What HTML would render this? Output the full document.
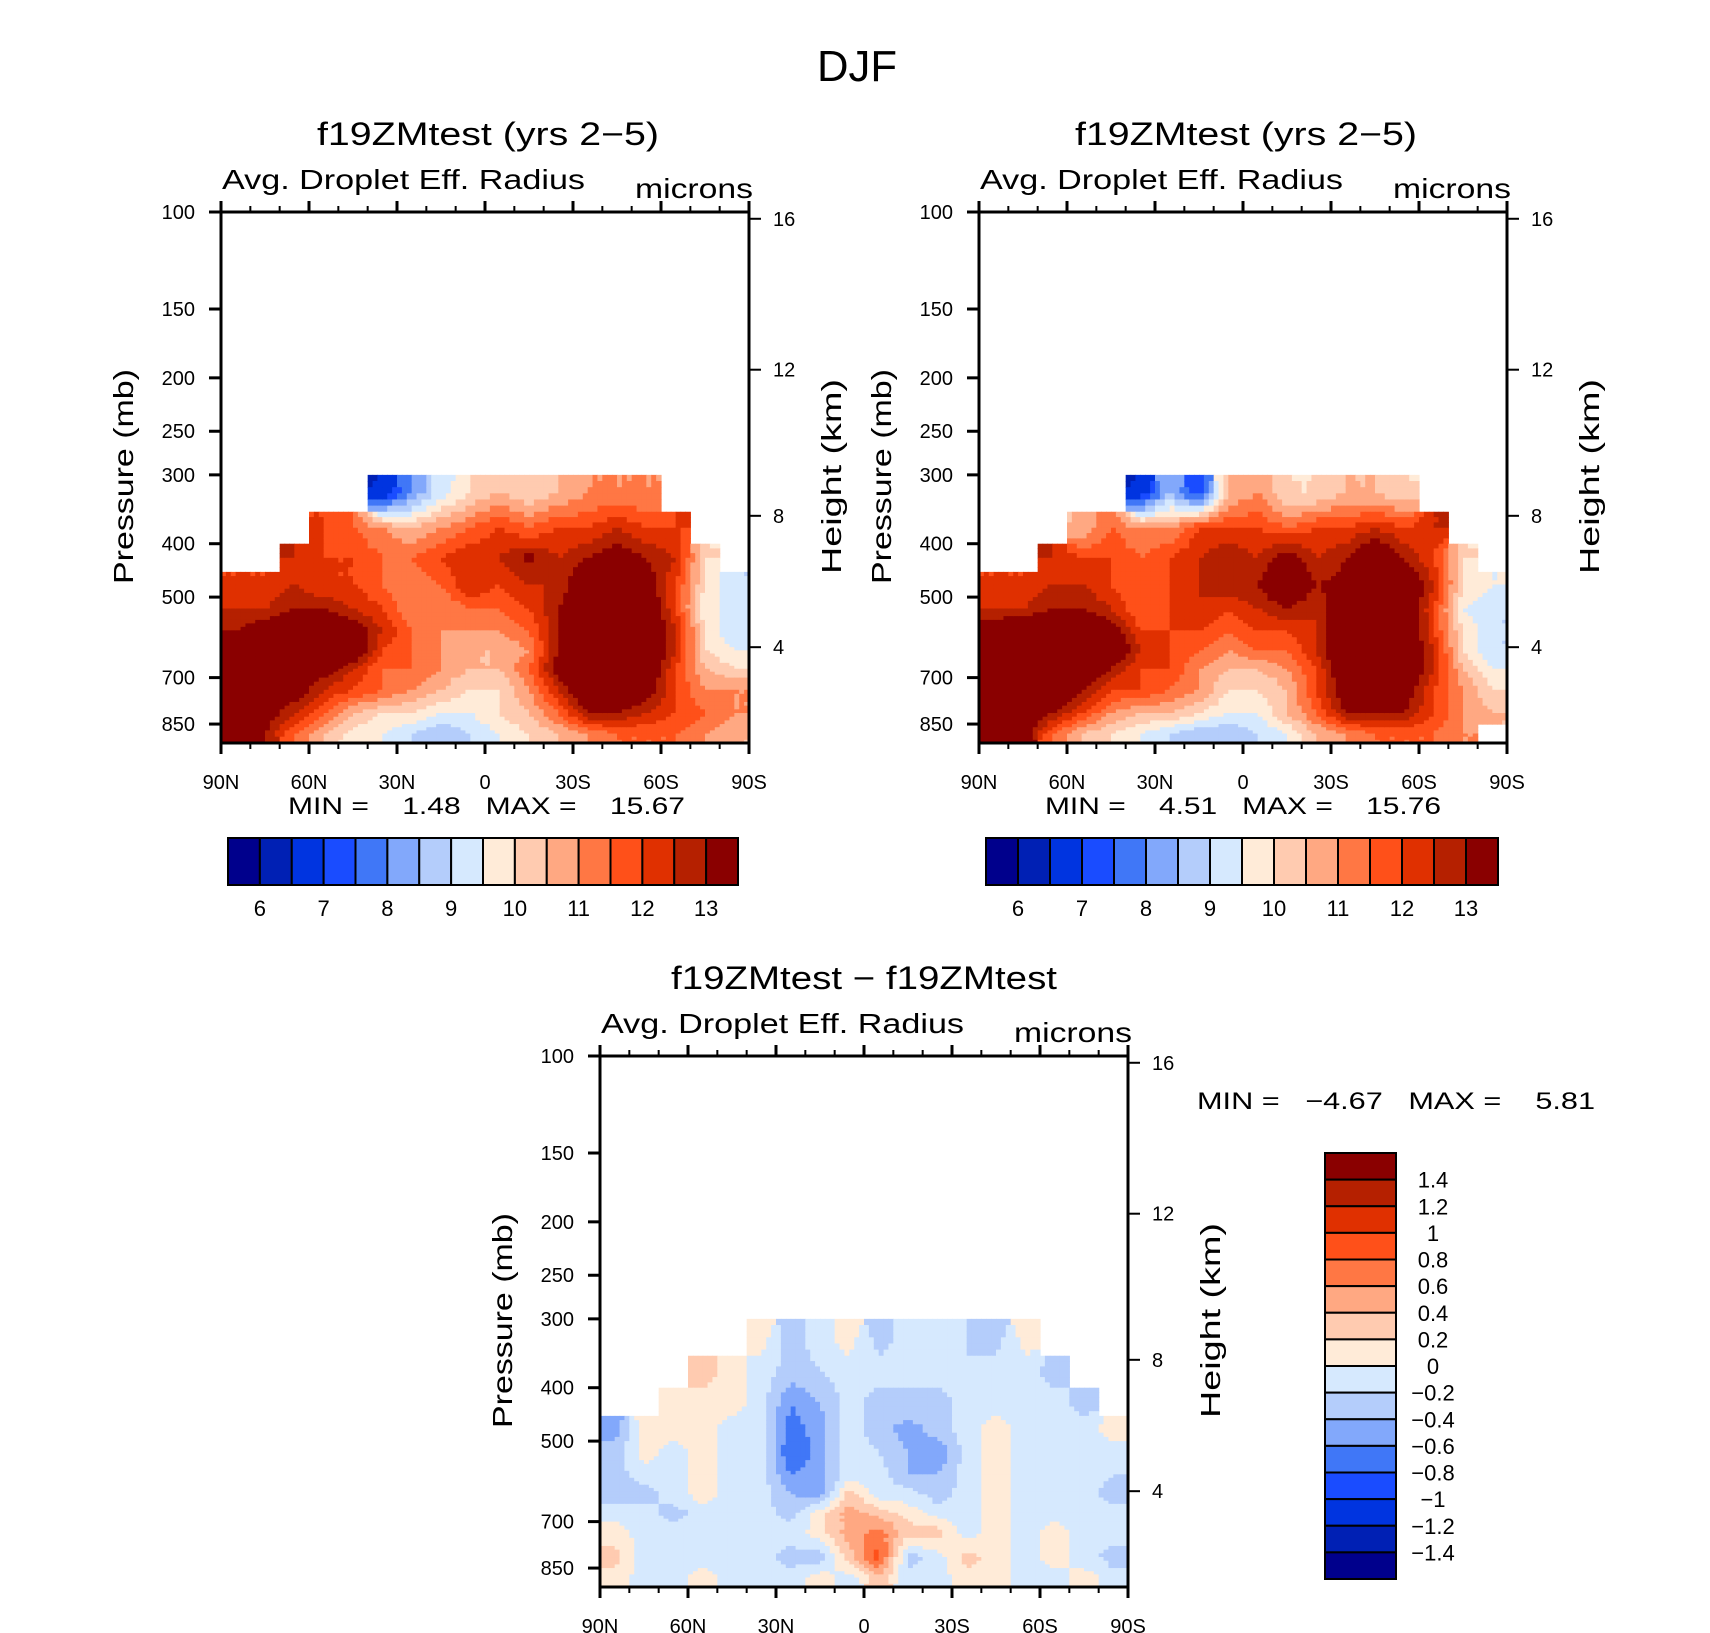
<!DOCTYPE html>
<html><head><meta charset="utf-8"><style>
html,body{margin:0;padding:0;background:#fff;}
svg{display:block;font-family:"Liberation Sans",sans-serif;}
</style></head><body>
<svg id="fig" width="1710" height="1633" viewBox="0 0 1710 1633" xmlns="http://www.w3.org/2000/svg">
<text x="857" y="81" font-size="44" text-anchor="middle" textLength="80" lengthAdjust="spacingAndGlyphs">DJF</text>
</svg>
<script>
// ---- data ----
const latCenters = [85,75,65,55,45,35,25,15,5,-5,-15,-25,-35,-45,-55,-65,-75,-85];
const levEdges = [300,350,400,450,500,550,600,650,700,775,850,920];
const presTicks = [100,150,200,250,300,400,500,700,850];
const heightTicks = [16,12,8,4];
const latTicks = [90,60,30,0,-30,-60,-90];
const latTickLabels = ["90N","60N","30N","0","30S","60S","90S"];
const absLevels = [6,6.5,7,7.5,8,8.5,9,9.5,10,10.5,11,11.5,12,12.5,13];
const absLabels = ["6","7","8","9","10","11","12","13"];
const diffLevels = [-1.4,-1.2,-1,-0.8,-0.6,-0.4,-0.2,0,0.2,0.4,0.6,0.8,1,1.2,1.4];
const diffLabels = ["1.4","1.2","1","0.8","0.6","0.4","0.2","0","\u22120.2","\u22120.4","\u22120.6","\u22120.8","\u22121","\u22121.2","\u22121.4"];
const palette = ["#00008c","#0020b4","#0034e0","#1a4cff","#4077f7","#82a8fb","#b4cdfb","#d6e9fe","#ffebd8","#ffcbb0","#ffa882","#ff7744","#ff5019","#e03000","#b52000","#8a0000"];
const N=null;
const fieldA = [
 [N,N,N,N,N,6.5,8,9.3,10,10.5,10,10.5,11,11,11,N,N,N],
 [N,N,N,12,11.5,11,10.5,11,11.5,12,11.5,12,12,12.5,12,12,N,N],
 [N,N,12.5,12,12,11.5,11.5,12,12.5,12.5,13.2,12.5,13,13.5,13,12.5,10,N],
 [12,12,12.5,12,12,11.5,11,11.5,12.5,12,12.5,12.5,14,14,13.5,12,10,9],
 [12.5,12.5,13,13,12.5,12,11,11,11.5,11.5,12,13,14,14,14,12,9.5,9.5],
 [13,13.5,14,14,13.5,12.5,11.5,11,11,11,11.5,13,14,14,14,12.5,10,9],
 [14,14,14,14,14,12,11.5,11,10.5,10.5,11,13,14,14,14,12.5,10,9.5],
 [14,14,14,13.5,12.5,11.5,11.5,11,10.5,10.5,11.5,13.5,14,14,14,12,10.5,10],
 [14,14,13.5,12.5,12,11.5,11,10.5,10,10,11,12.5,14,14,13.5,12,11,11],
 [14,13.5,12.5,11.5,10.5,10,10,9.5,9.5,10,10.5,11.5,13,13,12.5,12,11.5,11],
 [14,13,11.5,10.5,9.8,9.5,9,8.5,9,9.5,10,10.5,11,11.5,11.5,11.5,11,10.5]
];
const fieldB = [
 [N,N,N,N,N,6.5,8.5,7,10.5,11,10,10,10.5,10.5,10,N,N,N],
 [N,N,N,10.5,11.5,11,11,12,12,12,11.5,12,12,12.5,12,12.5,N,N],
 [N,N,12.5,12,12,11.5,12,12.5,13,12.5,13.5,12.5,13,14,13,12,10,N],
 [12,12,12.5,12.5,12,11.5,12,12.5,13,13,14,13,13.2,14,14,12.5,10,9.5],
 [12.5,12.5,13,13,12.5,11.5,12,12.5,12,12.5,13,12.5,14,14,14,12,9.5,9],
 [13.5,14,14,14,13.5,12,12,12,11.5,12,12,12.5,14,14,14,12,10,9],
 [14,14,14,14,14,12.5,12,11.5,11,11.5,11.5,12.5,14,14,14,12.5,10,9],
 [14,14,14,14,13,12,12,11,10.5,10.5,11,12,14,14,14,12.5,10.5,9.5],
 [14,14,14,13,12,12,11.5,11,10,10,10.5,12,13.5,14,13.5,12,11,10],
 [14,14,13,12,11,10.5,10.5,10,9.5,9.5,10.5,11.5,13,13,13,12,11,10.5],
 [14,13.5,11.5,10.5,10,9.5,9,8.5,8.5,9,9.5,10.5,11,11.5,11.5,11.5,11,N]
];
const fieldD = [
 [N,N,N,N,N,0.1,-0.3,-0.1,0.1,-0.3,-0.1,-0.1,-0.2,-0.3,0.1,N,N,N],
 [N,N,N,0.3,0.1,-0.1,-0.3,-0.2,-0.1,-0.1,-0.2,-0.1,-0.2,-0.1,-0.1,-0.3,N,N],
 [N,N,0.1,0.1,0.1,-0.1,-0.6,-0.4,-0.1,-0.3,-0.2,-0.3,-0.1,-0.1,-0.1,-0.1,-0.3,N],
 [-0.5,0.1,0.1,0.1,-0.1,-0.1,-0.7,-0.5,-0.1,-0.3,-0.5,-0.3,-0.1,0.1,-0.1,-0.1,-0.1,0.1],
 [-0.3,0.1,-0.1,0.1,-0.1,-0.1,-0.8,-0.5,-0.1,-0.2,-0.4,-0.6,-0.1,0.1,-0.1,-0.1,-0.1,-0.1],
 [-0.3,-0.1,-0.1,0.1,-0.1,-0.1,-0.6,-0.5,-0.1,-0.1,-0.4,-0.4,-0.1,0.1,-0.1,-0.1,-0.1,-0.2],
 [-0.3,-0.3,-0.1,0.1,-0.1,-0.1,-0.4,-0.5,0.3,-0.1,-0.1,-0.3,-0.1,0.1,-0.1,-0.1,-0.1,-0.3],
 [-0.1,-0.1,-0.3,-0.1,-0.1,-0.1,-0.3,0.1,0.5,0.3,0.1,-0.1,-0.1,0.1,-0.1,-0.1,-0.1,-0.1],
 [0.1,-0.1,-0.1,-0.1,-0.1,-0.1,-0.1,0.1,0.5,0.7,0.3,0.3,-0.1,0.1,-0.1,0.1,-0.1,-0.1],
 [0.3,-0.1,-0.1,-0.1,-0.1,-0.1,-0.3,-0.3,0.3,0.9,-0.3,-0.1,0.3,0.1,-0.1,0.1,-0.1,-0.3],
 [0.1,-0.1,-0.1,0.1,-0.1,-0.1,-0.1,0.1,-0.1,0.3,-0.1,-0.1,0.1,0.1,-0.1,-0.1,0.1,-0.1]
];

// ---- drawing ----
const NS="http://www.w3.org/2000/svg";
const svg=document.getElementById('fig');
function mk(tag,attrs,parent){const e=document.createElementNS(NS,tag);for(const k in attrs)e.setAttribute(k,attrs[k]);(parent||svg).appendChild(e);return e;}
function txt(s,attrs,parent){const e=mk('text',attrs,parent);e.textContent=s;return e;}
function colorFor(v,levels){let i=0;while(i<levels.length&&v>=levels[i])i++;return palette[Math.min(i,palette.length-1)];}
function heightToP(z){const m=z*1000;if(m<11000)return 1013.25*Math.pow(1-2.25577e-5*m,5.2559);return 226.32*Math.exp(-(m-11000)/6341.6);}
const PBOT=920;

function panel(o){
  const g=mk('g',{});
  
  
  const X=o.x,Y=o.y,W=528,H=531;
  const xs=lat=>X+(90-lat)/180*W;
  const ys=p=>Y+H*Math.log10(p/100)/Math.log10(PBOT/100);
  const cells=mk('g',{},g);
  
  
  const F=o.field,R=F.length,C=latCenters.length,S=6;
  const val=(r,c)=>(r>=0&&r<R&&c>=0&&c<C)?F[r][c]:null;
  for(let r=0;r<R;r++)for(let c=0;c<C;c++){
    const v0=F[r][c]; if(v0===null)continue;
    const x0=xs(latCenters[c]+5),x1=xs(latCenters[c]-5);
    const y0=ys(levEdges[r]),y1=ys(levEdges[r+1]);
    for(let i=0;i<S;i++)for(let j=0;j<S;j++){
      const fx=(i+0.5)/S-0.5, fy=(j+0.5)/S-0.5;
      const cn=c+(fx<0?-1:1), rn=r+(fy<0?-1:1);
      const vx=val(r,cn)===null?v0:val(r,cn);
      const vy=val(rn,c)===null?v0:val(rn,c);
      const vxy=val(rn,cn)===null?v0:val(rn,cn);
      const ax=Math.abs(fx),ay=Math.abs(fy);
      const v=v0*(1-ax)*(1-ay)+vx*ax*(1-ay)+vy*(1-ax)*ay+vxy*ax*ay;
      const rx=x0+(x1-x0)*i/S, ry=y0+(y1-y0)*j/S;
      const e=mk('rect',{x:rx.toFixed(2),y:ry.toFixed(2),width:((x1-x0)/S+0.6).toFixed(2),height:((y1-y0)/S+0.6).toFixed(2),fill:colorFor(v,o.levels)},cells);
      
      
    }
  }
  const fr=mk('rect',{x:X,y:Y,width:W,height:H,fill:'none',stroke:'#000','stroke-width':3},g);
  
  
  for(let lat=90;lat>=-90;lat-=10){
    const major=lat%30===0, x=xs(lat), L=major?11:6;
    mk('line',{x1:x,x2:x,y1:Y,y2:Y-L,stroke:'#000','stroke-width':major?3:2},g);
    mk('line',{x1:x,x2:x,y1:Y+H,y2:Y+H+L,stroke:'#000','stroke-width':major?3:2},g);
  }
  latTicks.forEach((lat,i)=>{
    const t=txt(latTickLabels[i],{x:xs(lat),y:Y+H+46,'font-size':20,'text-anchor':'middle'},g);
    
    
  });
  presTicks.forEach(p=>{
    const y=ys(p);
    mk('line',{x1:X,x2:X-12,y1:y,y2:y,stroke:'#000','stroke-width':3},g);
    const t=txt(String(p),{x:X-26,y:y+7,'font-size':20,'text-anchor':'end'},g);
    
    
  });
  heightTicks.forEach(z=>{
    const y=ys(heightToP(z));
    mk('line',{x1:X+W,x2:X+W+12,y1:y,y2:y,stroke:'#000','stroke-width':2},g);
    const t=txt(String(z),{x:X+W+24,y:y+7,'font-size':20},g);
    
    
  });
  const pl=txt('Pressure (mb)',{x:0,y:0,'font-size':28,'text-anchor':'middle',transform:`translate(${X-88},${Y+H*0.5-1}) rotate(-90)`,textLength:215,lengthAdjust:'spacingAndGlyphs'},g);
  
  
  const hl=txt('Height (km)',{x:0,y:0,'font-size':28,'text-anchor':'middle',transform:`translate(${X+W+92},${Y+H*0.5-1}) rotate(-90)`,textLength:195,lengthAdjust:'spacingAndGlyphs'},g);
  
  
  const tt=txt(o.title,{x:X+W/2+(o.titleDx||0),y:Y-67,'font-size':32,'text-anchor':'middle',textLength:o.titleLen,lengthAdjust:'spacingAndGlyphs'},g);
  
  
  const vl=txt('Avg. Droplet Eff. Radius',{x:X+1,y:Y-23,'font-size':28,textLength:363,lengthAdjust:'spacingAndGlyphs'},g);
  
  
  const ul=txt('microns',{x:X+W+4,y:Y-14,'font-size':28,'text-anchor':'end',textLength:118,lengthAdjust:'spacingAndGlyphs'},g);
  
  
  return g;
}

function hbar(x,y,w,h,levels,labels,name){
  const g=mk('g',{});
  
  
  const n=palette.length,bw=w/n;
  palette.forEach((c,i)=>{
    const r=mk('rect',{x:x+i*bw,y:y,width:bw,height:h,fill:c,stroke:'#000','stroke-width':2},g);
    
    
  });
  labels.forEach((l,k)=>{
    const t=txt(l,{x:x+(2*k+1)*bw,y:y+h+31,'font-size':22,'text-anchor':'middle'},g);
    
    
  });
}
function vbar(x,y,w,h,labels,name){
  const g=mk('g',{});
  
  
  const n=palette.length,bh=h/n;
  palette.slice().reverse().forEach((c,i)=>{
    const r=mk('rect',{x:x,y:y+i*bh,width:w,height:bh,fill:c,stroke:'#000','stroke-width':2},g);
    
    
  });
  labels.forEach((l,k)=>{
    const t=txt(l,{x:x+w+37,y:y+(k+1)*bh+8,'font-size':22,'text-anchor':'middle'},g);
    
    
  });
}

panel({name:'panel-top-left',x:221,y:212,field:fieldA,levels:absLevels,title:'f19ZMtest (yrs 2\u22125)',titleLen:342,titleDx:3});
panel({name:'panel-top-right',x:979,y:212,field:fieldB,levels:absLevels,title:'f19ZMtest (yrs 2\u22125)',titleLen:342,titleDx:3});
panel({name:'panel-difference',x:600,y:1056,field:fieldD,levels:diffLevels,title:'f19ZMtest \u2212 f19ZMtest',titleLen:386,titleDx:0});

const m1=txt('MIN =    1.48   MAX =    15.67',{x:288,y:814,'font-size':24,textLength:397,lengthAdjust:'spacingAndGlyphs'});


const m2=txt('MIN =    4.51   MAX =    15.76',{x:1045,y:814,'font-size':24,textLength:396,lengthAdjust:'spacingAndGlyphs'});


const m3=txt('MIN =   \u22124.67   MAX =    5.81',{x:1197,y:1109,'font-size':24,textLength:398,lengthAdjust:'spacingAndGlyphs'});


[m1,m2,m3].forEach(e=>e.setAttribute('style','white-space:pre'));

hbar(228,838,510,47,absLevels,absLabels,'colorbar-left');
hbar(986,838,512,47,absLevels,absLabels,'colorbar-right');
vbar(1325,1153,71,426,diffLabels,'colorbar-diff');
</script>
</body></html>
